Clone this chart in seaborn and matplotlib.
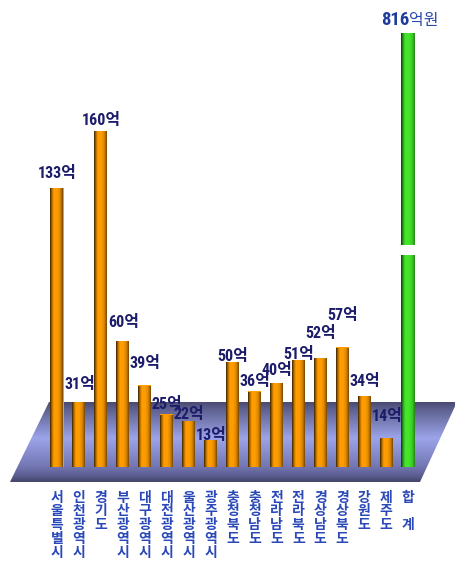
import numpy as np
import matplotlib
matplotlib.use("Agg")
import matplotlib.pyplot as plt
from matplotlib import font_manager as fm
from matplotlib.patches import Polygon, Rectangle
from matplotlib.colors import LinearSegmentedColormap, to_rgb
import seaborn as sns

# ---------------- data ----------------
regions = ["서울특별시", "인천광역시", "경기도", "부산광역시", "대구광역시", "대전광역시",
           "울산광역시", "광주광역시", "충청북도", "충청남도", "전라남도", "전라북도",
           "경상남도", "경상북도", "강원도", "제주도", "합 계"]
values = [133, 31, 160, 60, 39, 25, 22, 13, 50, 36, 40, 51, 52, 57, 34, 14, 816]
unit = "억"
total_unit = "억원"

# ---------------- style ----------------
# gap (points) between bar top and label baseline, as laid out in the original
label_gap_pt = [7, 9, 4, 10, 12, 4, 1, 0, 1, 4, 6, 1, 14, 20, 7, 12, 6]

sns.set_theme(style="white")
entries = fm.fontManager.ttflist
num_family, num_stretch = "Liberation Sans", "normal"
prefs = ["Liberation Sans Narrow", "Roboto Condensed", "Open Sans Condensed",
         "Noto Sans Condensed", "DejaVu Sans Condensed"]
found = False
for pname in prefs:
    for f in entries:
        if f.name == pname:
            num_family, num_stretch = f.name, f.stretch
            found = True
            break
    if found:
        break
if not found:
    for f in entries:
        st = str(f.stretch)
        if "condensed" in st and f.name in ("DejaVu Sans", "Noto Sans", "Roboto", "Open Sans",
                                            "Liberation Sans"):
            num_family, num_stretch = f.name, f.stretch
            found = True
            break
kr_font = "Noto Sans CJK KR"
plt.rcParams["font.family"] = [kr_font, "DejaVu Sans"]

ORANGE = "#ff9c00"
GREEN = "#44e62a"
colors = [ORANGE] * (len(values) - 1) + [GREEN]

W, H = 456, 571
fig = plt.figure(figsize=(W / 100, H / 100), dpi=100)
fig.patch.set_facecolor("white")

# background axes in pixel coordinates for the floor
bg = fig.add_axes([0, 0, 1, 1], zorder=0)
bg.axis("off")
floor = Polygon([(49, 402), (457, 402), (420, 482), (10, 482)], closed=True,
                facecolor="none", edgecolor="none")
bg.add_patch(floor)
floor_cmap = LinearSegmentedColormap.from_list(
    "floor", [(0.0, "#4a4b72"), (0.08, "#5c5f8c"), (0.45, "#9ca4ea"),
              (0.8, "#7478b4"), (0.93, "#5a5c8e"), (1.0, "#454668")])
grad_v = np.linspace(0, 1, 200)[:, None]
im = bg.imshow(grad_v, cmap=floor_cmap, extent=(0, W, 482, 402), aspect="auto",
               origin="upper", interpolation="bicubic")
im.set_clip_path(floor)
bg.set_xlim(0, W)
bg.set_ylim(H, 0)

# main axes
ax = fig.add_axes([46 / W, 104 / H, 373 / W, 457 / H], zorder=1)
ax.patch.set_alpha(0)

B, K = 170.0, 0.05681


def fwd(v):
    v = np.asarray(v, dtype=float)
    return np.where(v <= B, v, B + (v - B) * K)


def inv(t):
    t = np.asarray(t, dtype=float)
    return np.where(t <= B, t, B + (t - B) / K)


sns.barplot(x=regions, y=values, hue=regions, palette=colors, legend=False,
            width=0.6, saturation=1, ax=ax, linewidth=0)
ax.set_yscale("function", functions=(fwd, inv))


def shade(base):
    r, g, b = to_rgb(base)
    stops = [(0.0, 0.32), (0.1, 0.68), (0.25, 1.0), (0.5, 1.0), (0.72, 0.88),
             (0.88, 0.62), (1.0, 0.32)]
    cols = [(p, tuple(min(1, c * f) for c in (r, g, b))) for p, f in stops]
    return LinearSegmentedColormap.from_list("cyl", cols)


grad_h = np.linspace(0, 1, 64)[None, :]
patches = list(ax.patches)
for p, v, c in zip(patches, values, colors):
    if c == GREEN:
        cx = p.get_x() + p.get_width() / 2
        p.set_width(0.68)
        p.set_x(cx - 0.34)
    x0, w = p.get_x(), p.get_width()
    img = ax.imshow(grad_h, cmap=shade(c), extent=(x0, x0 + w, 0, v), aspect="auto",
                    interpolation="bicubic", zorder=p.get_zorder() + 0.1)
    img.set_clip_path(p)

# break mark on the total bar
gp = patches[-1]
ax.add_patch(Rectangle((gp.get_x() - 0.05, 101), gp.get_width() + 0.1, 4.7,
                       facecolor="white", edgecolor="none", zorder=10))

# value labels
for p, v, gap in zip(patches[:-1], values[:-1], label_gap_pt[:-1]):
    ax.annotate(f"{v}{unit}", xy=(p.get_x() + p.get_width() / 2, v), xytext=(0.5, gap),
                textcoords="offset points", ha="center", va="baseline",
                fontsize=11.5, fontweight="bold", color="#1c1c6a",
                family=[num_family, kr_font], fontstretch=num_stretch, zorder=12)
cx = gp.get_x() + gp.get_width() / 2
ax.annotate(f"{values[-1]}", xy=(cx, values[-1]), xytext=(1, label_gap_pt[-1]),
            textcoords="offset points", ha="right", va="baseline", fontsize=13.5,
            fontweight="bold", color="#1f3c9c", family=[num_family, kr_font],
            fontstretch=num_stretch, zorder=12)
ax.annotate(total_unit, xy=(cx, values[-1]), xytext=(1, label_gap_pt[-1]),
            textcoords="offset points", ha="left", va="baseline", fontsize=11.5,
            fontweight="normal", color="#2a48a8", family=[kr_font], zorder=12)

ax.set_xlim(-0.5, len(values) - 0.5)
ax.set_ylim(0, float(inv(217.6)))
ax.set_yticks([])
ax.set_xticks(range(len(regions)))
ax.set_xticklabels(["\n".join(list(s)) for s in regions], fontsize=10, color="#2a48b8",
                   fontweight="bold", linespacing=0.98, family=[kr_font])
ax.tick_params(axis="x", length=0, pad=17)
ax.set_xlabel("")
ax.set_ylabel("")
for s in ax.spines.values():
    s.set_visible(False)

fig.savefig("out.png", dpi=100, facecolor="white")
